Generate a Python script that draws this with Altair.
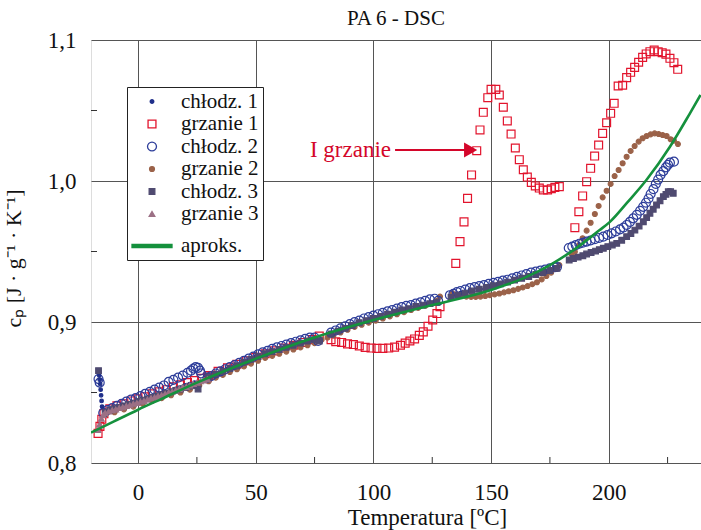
import altair as alt
import pandas as pd

FONT = "Liberation Serif"

SERIES = ["chłodz. 1", "grzanie 1", "chłodz. 2", "grzanie 2", "chłodz. 3", "grzanie 3", "aproks."]
COLORS = ["#1f2f8a", "#e2142d", "#2d3d9a", "#9b6249", "#4f4a70", "#9c7085", "#15913d"]
FILLS = ["#1f2f8a", "transparent", "transparent", "#9b6249", "#4f4a70", "#9c7085", "#15913d"]
SHAPES = ["circle", "square", "circle", "circle", "square", "triangle-up",
          "M-1,-0.075L1,-0.075L1,0.075L-1,0.075Z"]
SIZES = [13, 62, 80, 24, 32, 32, 1600]

X_TICKS = [0, 50, 100, 150, 200]
Y_TICKS = [0.8, 0.9, 1.0, 1.1]
X_MINOR = [25, 75, 125, 175, 225]
Y_MINOR = [0.85, 0.95, 1.05]

# grzanie 1 (red open squares)
g1_T = [-17, -16.2, -15.4, -14.5, -12, -9, -6, -3, 0, 3, 6, 9, 12, 15, 18, 21, 24, 27, 29.5,
        30, 34, 38, 42, 46, 50, 54, 58, 62, 66, 70, 74, 77,
        82, 84, 86.5, 89, 91.5, 94, 96.5, 99, 101.5, 104, 106.5, 109, 111.5, 113.5, 115.5, 117.5,
        119.5, 121.2, 123.2, 125.2, 127, 128.3,
        135, 136.8, 138.5, 140, 141.7, 143.9, 145.3, 146.7, 148.6, 150, 152, 153.5, 155.2, 156.9,
        158.5, 160.3, 162, 163.7, 165.4, 167.1, 168.8, 170.5, 172.2, 174, 175.6, 177.1, 179,
        185.6, 187.3, 188.9, 190.6, 192.3, 194, 195.7, 197.4, 199.1, 200.8, 202.3, 204, 205.9,
        207.6, 209.3, 211, 212.7, 214.4, 215.9, 217.5, 219.3, 221, 222.7, 224.3, 226, 227.7, 229.3]
g1_cp = [0.821, 0.826, 0.831, 0.835, 0.8385, 0.8405, 0.842, 0.844, 0.8455, 0.847, 0.849, 0.8505,
         0.852, 0.854, 0.8555, 0.857, 0.8585, 0.860, 0.861,
         0.862, 0.865, 0.8675, 0.870, 0.8725, 0.875, 0.8775, 0.8795, 0.8815, 0.8835, 0.8855,
         0.8875, 0.890,
         0.8875, 0.886, 0.8855, 0.8845, 0.884, 0.883, 0.882, 0.8815, 0.8813, 0.8813, 0.8815,
         0.8822, 0.8835, 0.885, 0.8865, 0.888, 0.8905, 0.893, 0.897, 0.9014, 0.906, 0.9109,
         0.9416, 0.957, 0.971, 0.9877, 1.0043, 1.0215, 1.0362, 1.0487, 1.0591, 1.065, 1.065,
         1.061, 1.0523, 1.0426, 1.0333, 1.0234, 1.0151, 1.008, 1.0028, 0.999, 0.9965, 0.995,
         0.9936, 0.9936, 0.9945, 0.9955, 0.996,
         0.9669, 0.9782, 0.9894, 0.9995, 1.009, 1.0177, 1.0255, 1.0338, 1.0413, 1.048, 1.0551,
         1.0674, 1.0679, 1.0733, 1.0771, 1.0806, 1.0842, 1.0877, 1.0901, 1.0917, 1.0929, 1.0917,
         1.091, 1.090, 1.087, 1.0839, 1.0792]

# grzanie 2 (brown dots)
g2_T = [-14, -10, -6, -2, 2, 6, 10, 14, 18, 22, 26,
        30, 33, 36, 39, 42, 45, 48, 51, 54, 57, 60, 63, 66, 69, 72, 75, 78,
        80.5, 83, 86, 89, 92, 95, 98, 101, 104, 107, 110, 113, 116, 119, 122, 125, 127, 128.3,
        133.5, 135.5, 137.5, 139.5, 141.5, 143.5, 145.5, 147.5, 149.5, 151.5, 153.5, 155.5,
        157.5, 159.5, 161.5, 163.5, 165.5, 167.5, 169.5, 171.5, 173.5, 175.5, 177.5, 179,
        184.2, 185.6, 187.3, 188.9, 190.6, 192.3, 194.1, 195.7, 197.4, 199.1, 200.8, 202.5,
        204.2, 205.9, 207.6, 209.3, 211, 212.7, 214.4, 216.1, 217.8, 219.5, 221.2, 222.9, 224.6,
        226.3, 227.7, 229.4]
g2_cp = [0.834, 0.836, 0.838, 0.840, 0.842, 0.844, 0.846, 0.848, 0.850, 0.852, 0.855,
         0.858, 0.8605, 0.8625, 0.8645, 0.8665, 0.8685, 0.8705, 0.8725, 0.8745, 0.876, 0.8775,
         0.879, 0.8805, 0.882, 0.8835, 0.885, 0.8875,
         0.889, 0.8905, 0.8925, 0.8945, 0.8965, 0.898, 0.8995, 0.901, 0.9025, 0.904, 0.9055,
         0.907, 0.9085, 0.910, 0.9115, 0.913, 0.915, 0.918,
         0.9205, 0.9195, 0.9188, 0.918, 0.9178, 0.9178, 0.918, 0.9184, 0.919, 0.9196, 0.9202,
         0.921, 0.9218, 0.9225, 0.9235, 0.9245, 0.9255, 0.9268, 0.9282, 0.9302, 0.9326, 0.935,
         0.9378, 0.9404,
         0.948, 0.9499, 0.9545, 0.9594, 0.9648, 0.9704, 0.9766, 0.9823, 0.9884, 0.9931, 0.9979,
         1.0035, 1.0078, 1.0126, 1.0172, 1.0213, 1.0248, 1.0279, 1.0303, 1.0319, 1.0331, 1.0338,
         1.0333, 1.0326, 1.0319, 1.0296, 1.0286, 1.0262]

# chłodz. 2 (blue open circles)
c2_T = [-16.8, -16.3, -14.8, -13, -11, -9, -7, -5, -3, -1, 1, 3, 5, 7, 9, 11, 13, 15, 17, 19,
        21, 22.5, 23.5, 24.5, 25.5, 26.3, 26.8,
        29.5, 31, 33, 35, 37, 39, 41, 43, 45, 47, 49, 51, 53, 55, 57, 59, 61, 63, 65, 67, 69,
        71, 73, 75, 76.5,
        82, 84, 86, 88, 90, 92, 94, 96, 98, 100, 102, 104, 106, 108, 110, 112, 114, 116, 118,
        120, 122, 124, 126, 127.5,
        132.5, 134, 135.5, 137, 139, 141, 143, 145, 147, 149, 151, 153, 155, 157, 159, 161, 163,
        165, 167, 169, 171, 173, 175, 177, 178,
        183, 184.5, 186, 187.5, 189, 190.6, 192.3, 194.1, 195.9, 197.7, 199.5, 201.2, 203,
        204.8, 206.3, 207.6, 209, 210.4, 211.9, 213.3, 214.6, 215.8, 216.9, 217.8, 219, 220,
        221, 222, 223.2, 224.3, 225.2, 226, 227.7]
c2_cp = [0.8595, 0.857, 0.8355, 0.8375, 0.839, 0.8405, 0.842, 0.8435, 0.845, 0.846, 0.8475,
         0.849, 0.8505, 0.852, 0.8535, 0.855, 0.8575, 0.859, 0.8605, 0.862, 0.864, 0.8655,
         0.867, 0.868, 0.8675, 0.8655, 0.8635,
         0.8605, 0.8615, 0.8635, 0.865, 0.8665, 0.868, 0.8695, 0.871, 0.8725, 0.874, 0.8755,
         0.877, 0.8785, 0.8795, 0.881, 0.882, 0.883, 0.884, 0.885, 0.886, 0.887, 0.888, 0.889,
         0.889, 0.8865,
         0.8925, 0.894, 0.8955, 0.897, 0.8985, 0.900, 0.901, 0.9025, 0.9035, 0.9045, 0.9055,
         0.9065, 0.9075, 0.9085, 0.9095, 0.9105, 0.9115, 0.912, 0.913, 0.914, 0.915, 0.916,
         0.9165, 0.915,
         0.919, 0.920, 0.9212, 0.922, 0.923, 0.924, 0.9248, 0.9255, 0.9262, 0.927, 0.9278,
         0.9285, 0.9293, 0.930, 0.931, 0.932, 0.933, 0.934, 0.935, 0.9358, 0.9365, 0.9372,
         0.938, 0.9388, 0.939,
         0.9525, 0.9535, 0.9545, 0.9555, 0.9562, 0.957, 0.9578, 0.9587, 0.9596, 0.9605, 0.9617,
         0.9629, 0.9642, 0.9657, 0.967, 0.9688, 0.971, 0.9735, 0.976, 0.9789, 0.9817, 0.9846,
         0.9876, 0.9908, 0.9942, 0.9979, 1.001, 1.0043, 1.007, 1.0097, 1.0115, 1.013, 1.0137]

# chłodz. 1 (navy small dots)
c1_T = [-16.5, -16.3, -16.1, -15.9, -15.7, -15.5, -15.3, -14, -12, -10, -8, -6, -4, -2, 0, 2,
        4, 6, 8, 10, 12, 14, 16, 18, 20, 22, 24,
        30, 34, 38, 42, 46, 50, 54, 58, 62, 66, 70, 74,
        82, 86, 90, 94, 98, 102, 106, 110, 114, 118, 122, 126,
        133, 137, 141, 145, 149, 153, 157, 161, 165, 169, 173, 177]
c1_cp = [0.862, 0.859, 0.856, 0.852, 0.848, 0.844, 0.840, 0.8365, 0.838, 0.839, 0.840, 0.841,
         0.842, 0.843, 0.844, 0.845, 0.846, 0.847, 0.848, 0.849, 0.850, 0.851, 0.8525, 0.8535,
         0.855, 0.856, 0.857,
         0.8605, 0.8635, 0.8665, 0.8695, 0.8725, 0.8755, 0.8775, 0.8795, 0.8815, 0.8835, 0.8855,
         0.887,
         0.892, 0.8945, 0.897, 0.8995, 0.9015, 0.9035, 0.9055, 0.9075, 0.909, 0.911, 0.9125,
         0.914,
         0.918, 0.9205, 0.9225, 0.924, 0.9255, 0.927, 0.9285, 0.930, 0.932, 0.934, 0.936, 0.938]

# chłodz. 3 (slate filled squares)
c3_T = [-16.8, -14, -12, -10, -8, -6, -4, -2, 0, 2, 4, 6, 8, 10, 12, 14, 16, 18, 20, 22, 24,
        25.5,
        30, 33, 36, 39, 42, 45, 48, 51, 54, 57, 60, 63, 66, 69, 72, 75, 77,
        82, 85, 88, 91, 94, 97, 100, 103, 106, 109, 112, 115, 118, 121, 124, 127,
        133, 136, 139, 142, 145, 148, 151, 154, 157, 160, 163, 166, 169, 172, 175, 178,
        183.2, 185, 187, 189, 190.6, 192.5, 194.4, 196, 197.7, 199.6, 201.5, 203.4, 205.5,
        207.6, 209.4, 211.1, 212.9, 214.7, 216.1, 217.5, 218.9, 220.3, 221.8, 223.2, 224.3,
        225.3, 226.3, 227.4]
c3_cp = [0.8655, 0.836, 0.8375, 0.8385, 0.8395, 0.8405, 0.8415, 0.8425, 0.8435, 0.8445,
         0.8455, 0.8465, 0.8475, 0.8485, 0.8495, 0.8505, 0.8515, 0.8525, 0.8535, 0.8545, 0.855,
         0.8525,
         0.861, 0.863, 0.865, 0.867, 0.869, 0.8715, 0.8735, 0.8755, 0.8775, 0.879, 0.8805,
         0.882, 0.8835, 0.885, 0.8865, 0.8875, 0.8865,
         0.8915, 0.8935, 0.8955, 0.8975, 0.8995, 0.901, 0.9025, 0.904, 0.9055, 0.907, 0.9085,
         0.9095, 0.911, 0.912, 0.913, 0.914,
         0.9175, 0.919, 0.9205, 0.922, 0.9232, 0.9245, 0.9257, 0.927, 0.9283, 0.9297, 0.931,
         0.9323, 0.9337, 0.935, 0.9365, 0.938,
         0.944, 0.945, 0.946, 0.947, 0.9482, 0.9493, 0.9503, 0.9513, 0.9523, 0.9535, 0.9546,
         0.9558, 0.958, 0.9605, 0.9628, 0.9652, 0.968, 0.9711, 0.974, 0.9771, 0.980, 0.983,
         0.986, 0.9889, 0.9905, 0.9924, 0.9925, 0.9913]

# grzanie 3 (mauve triangles)
g3_T = [-17, -16.3, -15.6, -14.8, -14, -12.5, -11, -9.5, -8, -6.5, -5, -3.5, -2, -0.5, 1, 2.5,
        4, 5.5, 7, 8.5, 10, 11.5, 13, 14.5, 16, 17.5, 19, 20.5, 22, 23.5, 25, 26.5, 28, 29.5]
g3_cp = [0.8235, 0.8275, 0.8315, 0.834, 0.8355, 0.8365, 0.8375, 0.838, 0.839, 0.8395, 0.8405,
         0.841, 0.842, 0.8425, 0.8435, 0.844, 0.845, 0.846, 0.8465, 0.8475, 0.848, 0.849, 0.850,
         0.8505, 0.8515, 0.8525, 0.8535, 0.854, 0.855, 0.856, 0.857, 0.858, 0.8585, 0.8595]

# aproks. (green line)
ap_T = [-20, -10, 0, 10, 25, 50, 75, 100, 125, 150, 165, 175, 185, 196, 200.5, 208, 216, 226,
        234.5, 239]
ap_cp = [0.8215, 0.8297, 0.8378, 0.8455, 0.857, 0.874, 0.889, 0.9014, 0.912, 0.9227, 0.932,
         0.9404, 0.951, 0.965, 0.971, 0.985, 1.0007, 1.0243, 1.048, 1.061]

draw_order = [("grzanie 1", g1_T, g1_cp), ("grzanie 2", g2_T, g2_cp),
              ("chłodz. 2", c2_T, c2_cp), ("chłodz. 1", c1_T, c1_cp),
              ("chłodz. 3", c3_T, c3_cp), ("grzanie 3", g3_T, g3_cp)]
rows = []
for name, ts, cs in draw_order:
    for t, c in zip(ts, cs):
        rows.append({"T": t, "cp": c, "series": name})
pts = pd.DataFrame(rows)
line_df = pd.DataFrame({"T": ap_T, "cp": ap_cp, "series": ["aproks."] * len(ap_T)})

XDOM = [-20, 239.2]
YDOM = [0.8, 1.1]
xs = alt.Scale(domain=XDOM, nice=False, zero=False)
ys = alt.Scale(domain=YDOM, nice=False, zero=False)

leg = alt.Legend(orient="none", legendX=36, legendY=47, title=None,
                 labelFont=FONT, labelFontSize=21, labelColor="#111",
                 strokeColor="#222", fillColor="white", padding=4, rowPadding=0.5,
                 symbolStrokeWidth=1.3, labelOffset=8)

x_axis = alt.Axis(values=X_TICKS, grid=True, gridColor="#555", gridWidth=1, ticks=False,
                  domain=False, labelFont=FONT, labelFontSize=23, labelColor="#111",
                  labelPadding=18, title="Temperatura [ºC]", titleFont=FONT, titleFontSize=23,
                  titleFontWeight="normal", titleColor="#111", titleX=336, titleY=43)
y_axis = alt.Axis(values=Y_TICKS, grid=True, gridColor="#555", gridWidth=1, ticks=False,
                  domain=False, labelFont=FONT, labelFontSize=23, labelColor="#111",
                  labelPadding=15, labelExpr="replace(format(datum.value, '.1f'), '.', ',')",
                  title="cₚ [J · g⁻¹ · K⁻¹]", titleFont=FONT, titleFontSize=22,
                  titleFontWeight="normal", titleColor="#111", titleX=-66, titleY=218)

points = alt.Chart(pts).mark_point(opacity=1, strokeWidth=1.2, clip=True).encode(
    x=alt.X("T:Q", scale=xs, axis=x_axis),
    y=alt.Y("cp:Q", scale=ys, axis=y_axis),
    shape=alt.Shape("series:N", scale=alt.Scale(domain=SERIES, range=SHAPES), legend=leg),
    stroke=alt.Stroke("series:N", scale=alt.Scale(domain=SERIES, range=COLORS), legend=leg),
    fill=alt.Fill("series:N", scale=alt.Scale(domain=SERIES, range=FILLS), legend=leg),
    size=alt.Size("series:N", scale=alt.Scale(type="ordinal", domain=SERIES, range=SIZES), legend=leg),
)

line = alt.Chart(line_df).mark_line(strokeWidth=2.6, interpolate="monotone", clip=True).encode(
    x=alt.X("T:Q", scale=xs),
    y=alt.Y("cp:Q", scale=ys),
    stroke=alt.Stroke("series:N", scale=alt.Scale(domain=SERIES, range=COLORS), legend=leg),
)

xminor = alt.Chart(pd.DataFrame({"T": X_MINOR})).mark_rule(color="#333", strokeWidth=1).encode(
    x=alt.X("T:Q", scale=xs), y=alt.value(423), y2=alt.value(417))
yminor = alt.Chart(pd.DataFrame({"cp": Y_MINOR})).mark_rule(color="#333", strokeWidth=1).encode(
    y=alt.Y("cp:Q", scale=ys), x=alt.value(0), x2=alt.value(6))

ann = pd.DataFrame({"T": [107.5], "T1": [109.2], "T2": [140.0], "Ta": [141.3], "cp": [1.022],
                    "label": ["I grzanie"]})
ann_text = alt.Chart(ann).mark_text(align="right", baseline="middle", font=FONT, fontSize=23,
                                    color="#d4062a").encode(
    x=alt.X("T:Q", scale=xs), y=alt.Y("cp:Q", scale=ys), text="label:N")
ann_rule = alt.Chart(ann).mark_rule(color="#d4062a", strokeWidth=2).encode(
    x=alt.X("T1:Q", scale=xs), x2="T2:Q", y=alt.Y("cp:Q", scale=ys))
ann_head = alt.Chart(ann).mark_point(shape="triangle-right", filled=True, size=230, opacity=1,
                                     color="#d4062a").encode(
    x=alt.X("Ta:Q", scale=xs), y=alt.Y("cp:Q", scale=ys))

chart = alt.layer(points, line, xminor, yminor, ann_rule, ann_head, ann_text).properties(
    width=610, height=423,
    padding={"left": 91, "top": 40, "right": 0, "bottom": 67},
    autosize=alt.AutoSizeParams(type="none"),
    title=alt.TitleParams("PA 6 - DSC", font=FONT, fontSize=21, fontWeight="normal",
                          color="#111", offset=0, anchor="middle"),
).configure_view(stroke="#333", strokeWidth=2).configure(background="white")

chart.save("out.html", embed_options={"renderer": "svg", "actions": False})
